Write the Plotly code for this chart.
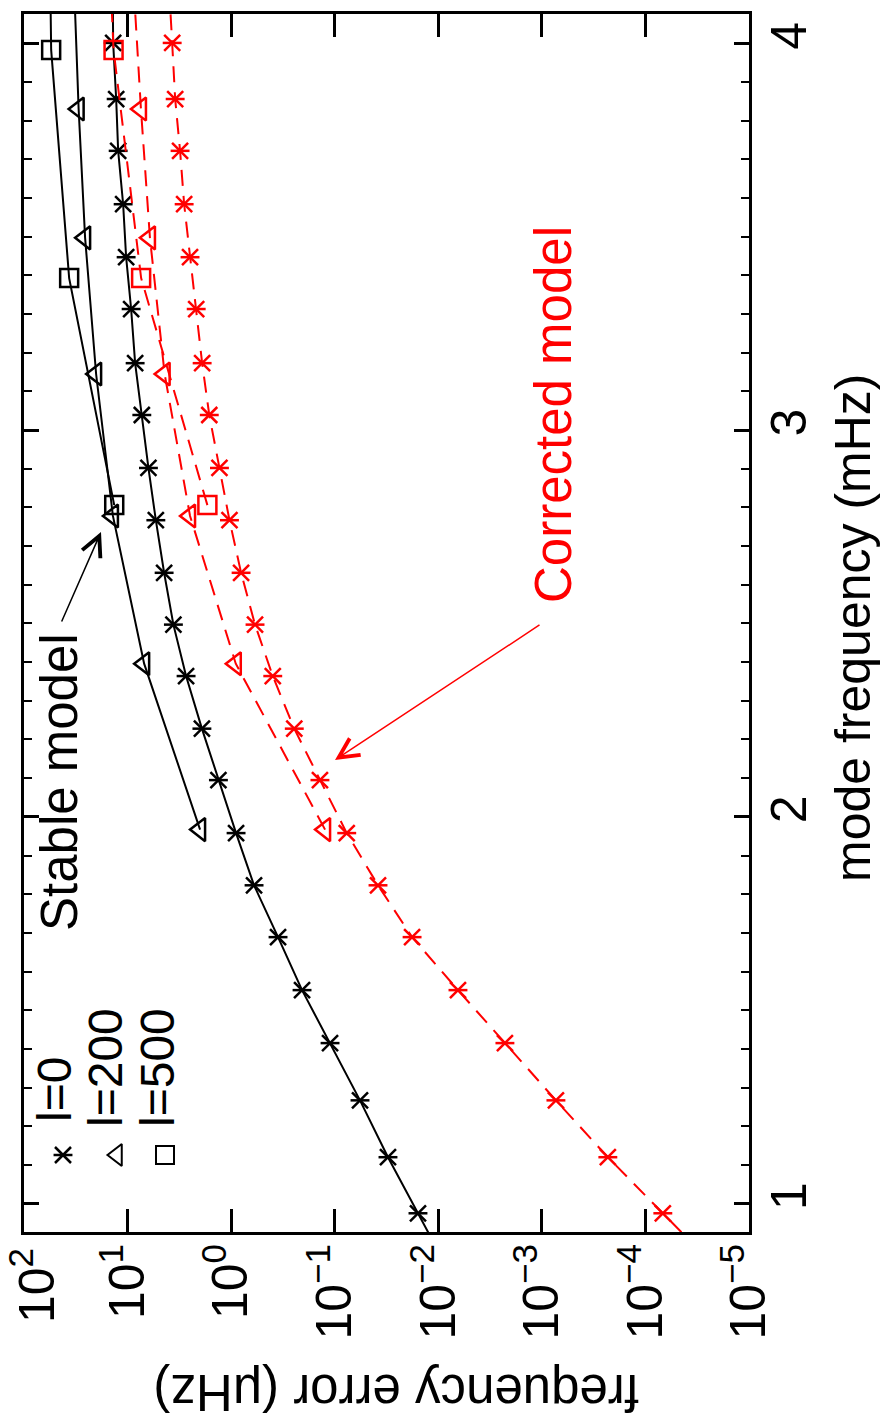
import plotly.graph_objects as go

FONT = "Liberation Sans, Arial, Helvetica, sans-serif"

# ---------------- data ----------------
# mode frequencies in mHz (first/last l=0 and last l=200, l=500 values lie just
# outside the frame; they only carry the lines up to the frame edge)
freq_l0 = [0.830, 0.975, 1.120, 1.267, 1.415, 1.552, 1.689, 1.823, 1.958, 2.095,
           2.228, 2.364, 2.497, 2.631, 2.767, 2.902, 3.039, 3.173, 3.313, 3.447,
           3.584, 3.722, 3.856, 4.001, 4.141]
err_stable_l0 = [0.00805, 0.0157, 0.0306, 0.0570, 0.111, 0.207, 0.353, 0.602, 0.898, 1.33,
                 1.92, 2.73, 3.62, 4.45, 5.35, 6.31, 7.31, 8.48, 9.27, 10.36,
                 11.07, 12.37, 12.93, 13.82, 13.98]
err_corr_l0 = [1.99e-5, 6.77e-5, 2.30e-4, 7.30e-4, 2.27e-3, 6.45e-3, 0.0179, 0.0382, 0.0766, 0.139,
               0.246, 0.397, 0.589, 0.803, 1.04, 1.30, 1.63, 1.91, 2.18, 2.50,
               2.85, 3.12, 3.48, 3.72, 3.98]

freq_l200 = [1.967, 2.396, 2.778, 3.145, 3.497, 3.830, 4.164]
err_stable_l200 = [2.00, 6.94, 13.9, 20.2, 25.8, 29.8, 33.1]
err_corr_l200 = [0.124, 0.904, 2.50, 4.40, 6.10, 7.45, 8.84]

freq_l500 = [2.806, 3.393, 3.983, 4.57]
err_stable_l500 = [13.5, 36.8, 54.9, 58.7]
err_corr_l500 = [1.70, 7.42, 13.7, 17.2]

err_tickvals = [1e2, 1e1, 1e0, 1e-1, 1e-2, 1e-3, 1e-4, 1e-5]
err_ticktext = ["10<sup>2</sup>", "10<sup>1</sup>", "10<sup>0</sup>", "10<sup>\u22121</sup>",
                "10<sup>\u22122</sup>", "10<sup>\u22123</sup>", "10<sup>\u22124</sup>",
                "10<sup>\u22125</sup>"]
freq_tickvals = [1, 2, 3, 4]
freq_ticktext = ["1", "2", "3", "4"]

legend_labels = ["l=0", "l=200", "l=500"]

# ---------------- figure ----------------
W, H = 881, 1421
ML, MR, MT, MB = 24, 132, 14, 189
PW, PH = W - ML - MR, H - MT - MB


def px(x):  # pixel -> paper x
    return (x - ML) / PW


def py(y):  # pixel -> paper y
    return (H - MB - y) / PH


fig = go.Figure()

DASH = "16px,10px"
MLW = 2.5


def star_markers(color, xs, ys, xaxis="x", yaxis="y", line=None):
    mode = "lines+markers" if line else "markers"
    fig.add_trace(go.Scatter(x=xs, y=ys, mode=mode, line=line, xaxis=xaxis, yaxis=yaxis,
                             marker=dict(symbol="line-ew-open", size=13.5, color=color,
                                         line=dict(width=MLW, color=color)),
                             showlegend=False, hoverinfo="skip"))
    fig.add_trace(go.Scatter(x=xs, y=ys, mode="markers", xaxis=xaxis, yaxis=yaxis,
                             marker=dict(symbol="x-thin-open", size=16, color=color,
                                         line=dict(width=MLW, color=color)),
                             showlegend=False, hoverinfo="skip"))


def add_series(freq, err, color, dash, kind):
    line = dict(color=color, width=2, dash=dash)
    if kind == "star":
        star_markers(color, err, freq, line=line)
    else:
        sym = "triangle-left-open" if kind == "tri" else "square-open"
        size = 20 if kind == "tri" else 18
        fig.add_trace(go.Scatter(x=err, y=freq, mode="lines+markers", line=line,
                                 marker=dict(symbol=sym, size=size, color=color,
                                             line=dict(width=MLW, color=color)),
                                 showlegend=False, hoverinfo="skip"))


add_series(freq_l0, err_stable_l0, "black", "solid", "star")
add_series(freq_l200, err_stable_l200, "black", "solid", "tri")
add_series(freq_l500, err_stable_l500, "black", "solid", "sq")
add_series(freq_l0, err_corr_l0, "red", DASH, "star")
add_series(freq_l200, err_corr_l200, "red", DASH, "tri")
add_series(freq_l500, err_corr_l500, "red", DASH, "sq")

# legend keys (on an overlay axis in paper-like units)
key_y = py(1155)
star_markers("black", [px(63)], [key_y], xaxis="x2", yaxis="y2")
fig.add_trace(go.Scatter(x=[px(117)], y=[key_y], mode="markers", xaxis="x2", yaxis="y2",
                         marker=dict(symbol="triangle-left-open", size=19, color="black",
                                     line=dict(width=2, color="black")),
                         showlegend=False, hoverinfo="skip"))
fig.add_trace(go.Scatter(x=[px(165)], y=[key_y], mode="markers", xaxis="x2", yaxis="y2",
                         marker=dict(symbol="square-open", size=18, color="black",
                                     line=dict(width=2, color="black")),
                         showlegend=False, hoverinfo="skip"))

annotations = []
# legend texts
for lab, xc, yc in zip(legend_labels, [54, 105, 157], [1090, 1068, 1068]):
    annotations.append(dict(text=lab, xref="paper", yref="paper", x=px(xc), y=py(yc),
                            xanchor="center", yanchor="middle", textangle=-90,
                            showarrow=False, font=dict(size=48, color="black", family=FONT)))

# model labels
annotations.append(dict(text="Stable model", xref="paper", yref="paper", x=px(59), y=py(782),
                        xanchor="center", yanchor="middle", textangle=-90, showarrow=False,
                        font=dict(size=51, color="black", family=FONT)))
annotations.append(dict(text="Corrected model", xref="paper", yref="paper", x=px(553), y=py(415),
                        xanchor="center", yanchor="middle", textangle=-90, showarrow=False,
                        font=dict(size=51, color="red", family=FONT)))

# arrows
annotations.append(dict(text="", xref="paper", yref="paper", x=px(101), y=py(532),
                        ax=61 - 101, ay=623 - 532, showarrow=True, arrowhead=5,
                        arrowsize=2.6, arrowwidth=1.5, arrowcolor="black", standoff=0))
annotations.append(dict(text="", xref="paper", yref="paper", x=px(335), y=py(760),
                        ax=541 - 335, ay=624 - 760, showarrow=True, arrowhead=5,
                        arrowsize=2.6, arrowwidth=1.5, arrowcolor="red", standoff=0))

# first error tick label (kept inside the page like the original)
annotations.append(dict(text=err_ticktext[0], xref="paper", yref="paper",
                        x=px(33), y=py(1286), xanchor="center", yanchor="middle",
                        textangle=-90, showarrow=False,
                        font=dict(size=50, color="black", family=FONT)))

# axis titles
annotations.append(dict(text="mode frequency (mHz)", xref="paper", yref="paper",
                        x=px(853), y=py(628), xanchor="center", yanchor="middle",
                        textangle=-90, showarrow=False,
                        font=dict(size=50, color="black", family=FONT)))
annotations.append(dict(text="frequency error (\u03bcHz)", xref="paper", yref="paper",
                        x=px(396), y=py(1393), xanchor="center", yanchor="middle",
                        textangle=180, showarrow=False,
                        font=dict(size=51, color="black", family=FONT)))

axis_ticktext = [""] + err_ticktext[1:]

fig.update_layout(
    width=W, height=H,
    margin=dict(l=ML, r=MR, t=MT, b=MB, pad=0, autoexpand=False),
    paper_bgcolor="white", plot_bgcolor="white",
    font=dict(family=FONT, size=50, color="black"),
    showlegend=False,
    annotations=annotations,
    xaxis=dict(type="log", range=[2.002, -5.002], tickvals=err_tickvals, ticktext=axis_ticktext,
               tickangle=-90, ticks="inside", ticklen=23, tickwidth=2.5, tickcolor="black",
               showline=True, linewidth=3, linecolor="black", mirror="ticks",
               showgrid=False, zeroline=False, automargin=False, ticklabelstandoff=-11,
               ticklabeloverflow="allow", tickfont=dict(size=50, family=FONT)),
    yaxis=dict(range=[0.9266, 4.0758], side="right", tickvals=freq_tickvals,
               ticktext=freq_ticktext, tickangle=-90, ticks="inside", ticklen=15,
               tickwidth=2.5, tickcolor="black", showline=True, linewidth=3,
               linecolor="black", mirror="ticks", showgrid=False, zeroline=False,
               automargin=False, ticklabelstandoff=-6, ticklabeloverflow="allow",
               tickfont=dict(size=50, family=FONT),
               minor=dict(dtick=0.1, ticks="inside", ticklen=8, tickwidth=2,
                          tickcolor="black", showgrid=False)),
    xaxis2=dict(overlaying="x", range=[0, 1], visible=False),
    yaxis2=dict(overlaying="y", range=[0, 1], visible=False),
)

fig.write_html("out.html", config={"displayModeBar": False},
               post_script="document.body.style.margin='0';document.body.style.padding='0';")
